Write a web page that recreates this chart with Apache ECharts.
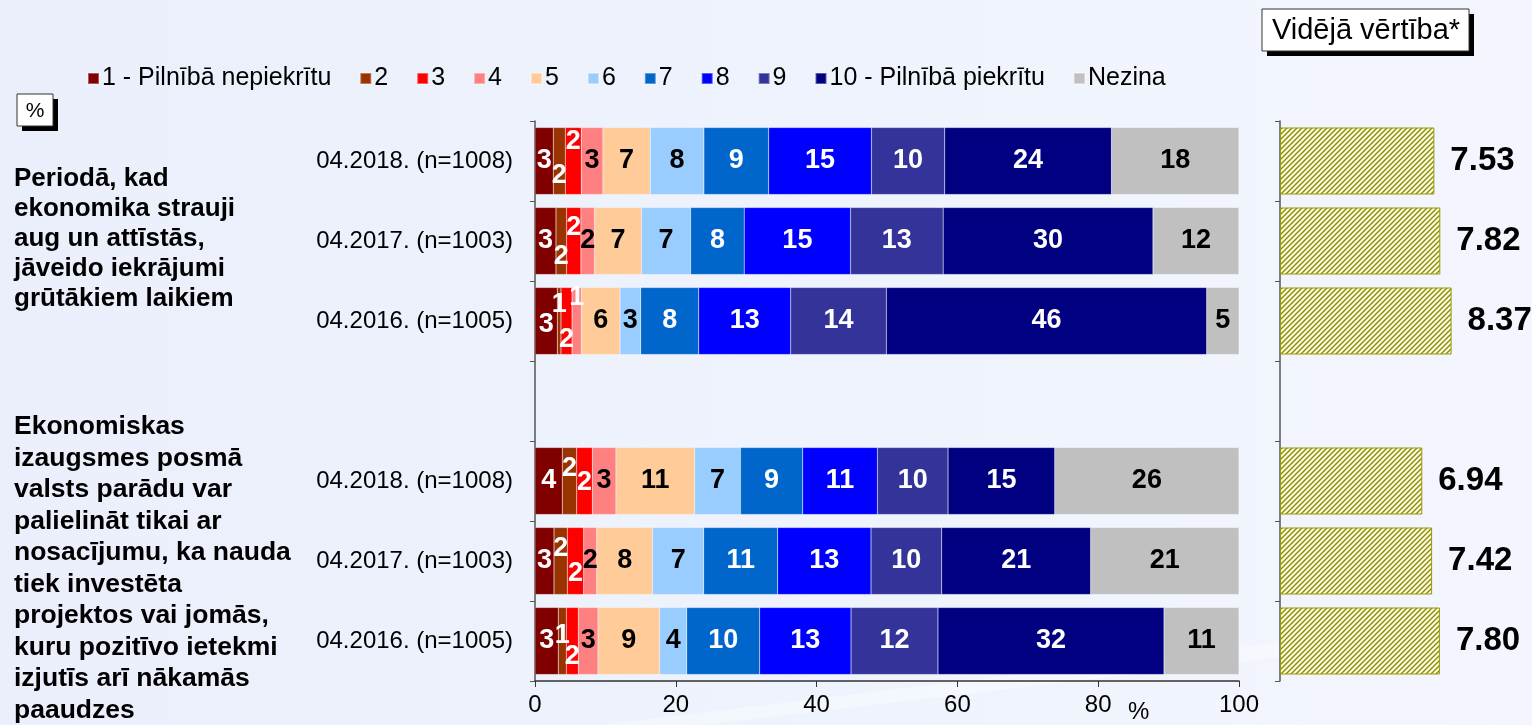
<!DOCTYPE html>
<html>
<head>
<meta charset="utf-8">
<script src="https://cdn.jsdelivr.net/npm/echarts@6/dist/echarts.min.js"></script>
<style>
html,body{margin:0;padding:0;background:#eef2fc;}
#c{width:1532px;height:725px;}
</style>
</head>
<body>
<div id="c"></div>
<script>
// ---- DATA ----
const periods = ['04.2018. (n=1008)', '04.2017. (n=1003)', '04.2016. (n=1005)'];
const seriesNames = ['1 - Pilnībā nepiekrītu', '2', '3', '4', '5', '6', '7', '8', '9', '10 - Pilnībā piekrītu', 'Nezina'];
// Statement 1: savings in growth periods (percent per answer 1..10, Nezina)
const s1_2018 = [2.6, 1.7, 2.27, 3.08, 6.72, 7.62, 9.2, 14.6, 10.4, 23.7, 18.1];
const s1_2017 = [2.98, 1.5, 2.04, 1.94, 6.68, 6.96, 7.62, 15.1, 13.16, 29.8, 12.2];
const s1_2016 = [3.17, 0.52, 1.57, 1.32, 5.5, 2.93, 8.24, 13.07, 13.59, 45.5, 4.6];
// Statement 2: public debt only if invested for future generations
const s2_2018 = [3.88, 2.04, 2.22, 3.36, 11.18, 6.5, 8.85, 10.61, 10.03, 15.16, 26.17];
const s2_2017 = [2.70, 1.89, 2.32, 1.85, 7.95, 7.25, 10.51, 13.26, 10.04, 21.16, 21.07];
const s2_2016 = [3.31, 1.14, 1.70, 2.8, 8.76, 3.84, 10.36, 12.98, 12.35, 32.11, 10.65];
// Mean values
const mean1 = [7.53, 7.82, 8.37];
const mean2 = [6.94, 7.42, 7.80];
const groupTitle1 = 'Periodā, kad\nekonomika strauji\naug un attīstās,\njāveido iekrājumi\ngrūtākiem laikiem';
const groupTitle2 = 'Ekonomiskas\nizaugsmes posmā\nvalsts parādu var\npalielināt tikai ar\nnosacījumu, ka nauda\ntiek investēta\nprojektos vai jomās,\nkuru pozitīvo ietekmi\nizjutīs arī nākamās\npaaudzes';

// ---- STYLE ----
const colors = ['#800000', '#993300', '#FF0000', '#FF8080', '#FFCC99', '#99CCFF', '#0066CC', '#0000FF', '#333399', '#000080', '#C0C0C0'];
const darkText = [false, false, false, true, true, true, false, false, false, false, true];
// vertical nudges of the crowded small labels (rows x first 4 series)
const labelDy = [
  [0, 15, -19, 0],
  [0, 16, -13, 0],
  [4, -16, 19, -23],
  null,
  [0, -12, 2, 0],
  [0, -12, 13, 0],
  [0, -5, 16, 0]
];

const rows = [s1_2018, s1_2017, s1_2016, null, s2_2018, s2_2017, s2_2016];
const means = [mean1[0], mean1[1], mean1[2], null, mean2[0], mean2[1], mean2[2]];
const rowLabels = [periods[0], periods[1], periods[2], '', periods[0], periods[1], periods[2]];
const yKeys = rowLabels.map((l, i) => i + '|' + l);

const FONT = 'Liberation Sans, Arial, sans-serif';

function hatch() {
  const c = document.createElement('canvas');
  c.width = 5; c.height = 5;
  const g = c.getContext('2d');
  g.fillStyle = '#fbfbe6';
  g.fillRect(0, 0, 5, 5);
  g.strokeStyle = '#8c8c00';
  g.lineWidth = 1.4;
  g.beginPath();
  g.moveTo(-1, 6); g.lineTo(6, -1);
  g.moveTo(-1, 1); g.lineTo(1, -1);
  g.moveTo(4, 6); g.lineTo(6, 4);
  g.stroke();
  return c;
}

const series = seriesNames.map((name, si) => ({
  name: name,
  type: 'bar',
  stack: 'all',
  xAxisIndex: 0,
  yAxisIndex: 0,
  barWidth: 67,
  itemStyle: { color: colors[si], borderColor: 'rgba(255,255,255,0.35)', borderWidth: 0.5 },
  label: {
    show: true,
    position: 'inside',
    fontFamily: FONT,
    fontWeight: 'bold',
    fontSize: 27,
    color: darkText[si] ? '#000' : '#fff',
    formatter: p => Math.round(p.value)
  },
  data: rows.map((r, ri) => {
    if (!r) return '-';
    const item = { value: r[si] };
    if (si < 4 && labelDy[ri]) {
      item.label = { offset: [0, labelDy[ri][si]] };
      if (ri === 2 && si === 3) item.label.color = '#fff';
    }
    return item;
  })
}));

series.push({
  name: 'mean',
  type: 'bar',
  xAxisIndex: 1,
  yAxisIndex: 1,
  barWidth: 67,
  itemStyle: { color: { image: hatch(), repeat: 'repeat' }, borderColor: '#999900', borderWidth: 1 },
  label: {
    show: true, position: 'right', distance: 16,
    fontFamily: FONT, fontWeight: 'bold', fontSize: 33, color: '#000',
    formatter: p => p.value.toFixed(2)
  },
  data: means.map(v => v == null ? '-' : v)
});

const chart = echarts.init(document.getElementById('c'), null, { renderer: 'canvas' });
chart.setOption({
  animation: false,
  backgroundColor: {
    type: 'linear', x: 0, y: 0, x2: 1, y2: 0,
    colorStops: [{ offset: 0, color: '#eaeffb' }, { offset: 1, color: '#f3f6fe' }]
  },
  textStyle: { fontFamily: FONT },
  legend: {
    left: 82, top: 61,
    itemWidth: 11, itemHeight: 11, itemGap: 28,
    icon: 'rect',
    textStyle: { fontSize: 25, color: '#000', fontFamily: FONT, padding: [0, 0, 0, -2] },
    data: seriesNames
  },
  grid: [
    { left: 535, width: 704, top: 121, height: 560 },
    { left: 1280, width: 205, top: 121, height: 560 }
  ],
  xAxis: [
    {
      gridIndex: 0, type: 'value', min: 0, max: 100, interval: 20,
      splitLine: { show: false },
      axisLine: { show: true, lineStyle: { color: '#333', width: 1.5 } },
      axisTick: { show: true, length: 6, lineStyle: { color: '#333' } },
      axisLabel: { fontSize: 24, color: '#000', margin: 12, fontFamily: FONT }
    },
    {
      gridIndex: 1, type: 'value', min: 0, max: 10, show: false
    }
  ],
  yAxis: [
    {
      gridIndex: 0, type: 'category', inverse: true, data: yKeys,
      axisLine: { show: true, lineStyle: { color: '#555', width: 1.5 } },
      axisTick: { show: true, length: 5, lineStyle: { color: '#555' } },
      axisLabel: { fontSize: 24, color: '#000', margin: 22, fontFamily: FONT, formatter: v => v.split('|')[1] }
    },
    {
      gridIndex: 1, type: 'category', inverse: true, data: yKeys,
      axisLine: { show: true, lineStyle: { color: '#555', width: 1.5 } },
      axisTick: { show: true, length: 5, lineStyle: { color: '#555' } },
      axisLabel: { show: false }
    }
  ],
  graphic: [
    { type: 'polygon', silent: true, z: -1, shape: { points: [[600, 725], [1300, 640], [1300, 655], [700, 725]] }, style: { fill: 'rgba(255,255,255,0.35)' } },
    { type: 'rect', shape: { x: 22, y: 99, width: 36, height: 32 }, style: { fill: '#000' } },
    { type: 'rect', shape: { x: 17, y: 94, width: 36, height: 32 }, style: { fill: '#fff', stroke: '#333', lineWidth: 1 } },
    { type: 'text', x: 35, y: 111, style: { text: '%', fontSize: 21, fontFamily: FONT, fill: '#000', align: 'center', verticalAlign: 'middle' } },
    { type: 'rect', shape: { x: 1267, y: 14, width: 207, height: 42 }, style: { fill: '#000' } },
    { type: 'rect', shape: { x: 1262, y: 9, width: 207, height: 42 }, style: { fill: '#fff', stroke: '#333', lineWidth: 1 } },
    { type: 'text', x: 1366, y: 31, style: { text: 'Vidējā vērtība*', fontSize: 29, fontFamily: FONT, fill: '#000', align: 'center', verticalAlign: 'middle' } },
    { type: 'text', x: 14, y: 164, style: { text: groupTitle1, fontSize: 26, fontWeight: 'bold', fontFamily: FONT, fill: '#000', lineHeight: 30 } },
    { type: 'text', x: 14, y: 411, style: { text: groupTitle2, fontSize: 26.5, fontWeight: 'bold', fontFamily: FONT, fill: '#000', lineHeight: 31.5 } },
    { type: 'text', x: 1128, y: 700, style: { text: '%', fontSize: 24, fontFamily: FONT, fill: '#000' } }
  ],
  series: series
});
</script>
</body>
</html>
